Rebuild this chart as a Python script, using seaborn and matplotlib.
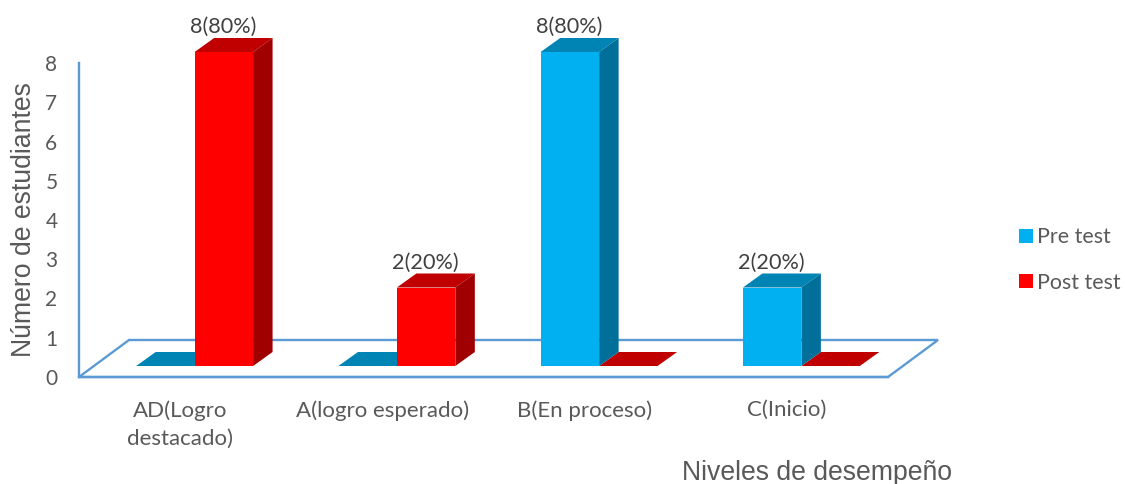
import matplotlib
matplotlib.use("Agg")
import matplotlib.pyplot as plt
import pandas as pd
import seaborn as sns
from matplotlib.patches import Polygon, Patch
from matplotlib.transforms import IdentityTransform

categories = ["AD(Logro\ndestacado)", "A(logro esperado)", "B(En proceso)", "C(Inicio)"]
pre_test = [0, 0, 8, 2]
post_test = [8, 2, 0, 0]
pre_pct = [0, 0, 80, 20]
post_pct = [80, 20, 0, 0]
y_ticks = [0, 1, 2, 3, 4, 5, 6, 7, 8]
series_names = ["Pre test", "Post test"]
y_title = "Número de estudiantes"
x_title = "Niveles de desempeño"

FRONT = {"Pre test": "#00B0F0", "Post test": "#FF0000"}
TOP = {"Pre test": "#0084B4", "Post test": "#C00000"}
SIDE = {"Pre test": "#00709B", "Post test": "#A00000"}
FRAME = "#5B9BD5"
TEXT = "#595959"
LABEL = "#404040"

W, H = 1125, 484
sns.set_theme(style="white")
plt.rcParams["font.family"] = ["Lato", "DejaVu Sans"]

fig = plt.figure(figsize=(W / 100, H / 100), dpi=100, facecolor="white")


def box(left, top, right, bottom):
    return [left / W, 1 - bottom / H, (right - left) / W, (bottom - top) / H]


# Front frame of the chart: carries the axes, ticks and the floor outline
ax = fig.add_axes(box(79, 63, 888, 377))
ax.set_xlim(-0.5, 3.5)
ax.set_ylim(0, 8)
ax.set_facecolor("none")
ax.set_xticks(range(len(categories)), categories)
ax.set_yticks(y_ticks)
ax.tick_params(axis="x", length=0, pad=16.5, labelsize=16, labelcolor=TEXT)
ax.tick_params(axis="y", length=0, pad=15.5, labelsize=15, labelcolor=TEXT)
for label in ax.get_xticklabels():
    label.set_linespacing(1.5)
for name in ("top", "right"):
    ax.spines[name].set_visible(False)
for name in ("left", "bottom"):
    ax.spines[name].set_color(FRAME)
    ax.spines[name].set_linewidth(1.7)

# Perspective floor behind the bars
floor_dx, floor_dy = 50, 37
fl, fb = ax.transAxes.transform((0, 0))
fr, _ = ax.transAxes.transform((1, 0))
ax.add_patch(Polygon(
    [(fl, fb), (fr, fb), (fr + floor_dx, fb + floor_dy), (fl + floor_dx, fb + floor_dy)],
    closed=True, facecolor="white", edgecolor=FRAME, linewidth=1.7,
    transform=IdentityTransform(), clip_on=False, zorder=1))

# Bars stand in the middle of the floor, so their axes sit slightly up and right
bar_ax = fig.add_axes(box(79 + 14.5, 63 - 11, 888 + 14.5, 377 - 11))
bar_ax.set_facecolor("none")
frame = pd.DataFrame({
    "category": categories * 2,
    "series": [series_names[0]] * 4 + [series_names[1]] * 4,
    "value": pre_test + post_test,
    "pct": pre_pct + post_pct,
})
sns.barplot(data=frame, x="category", y="value", hue="series", hue_order=series_names,
            palette=FRONT, width=0.578, dodge=True, saturation=1, legend=False,
            linewidth=0, ax=bar_ax, zorder=4)
bar_ax.set_xlim(-0.5, 3.5)
bar_ax.set_ylim(0, 8)
bar_ax.axis("off")

# Extrude every bar: a top face and a right side face
depth_dx, depth_dy = 19.5, 14
bars = [p for p in bar_ax.patches]
for i, bar in enumerate(bars):
    series = series_names[i // len(categories)]
    x0, x1 = bar.get_x(), bar.get_x() + bar.get_width()
    h = bar.get_height()
    (px0, py1), (px1, py0) = bar_ax.transData.transform([(x0, h), (x1, 0)])
    top = [(px0, py1), (px1, py1), (px1 + depth_dx, py1 + depth_dy), (px0 + depth_dx, py1 + depth_dy)]
    bar_ax.add_patch(Polygon(top, closed=True, facecolor=TOP[series], edgecolor="none",
                             transform=IdentityTransform(), clip_on=False, zorder=2))
    if h > 0:
        side = [(px1, py0), (px1 + depth_dx, py0 + depth_dy),
                (px1 + depth_dx, py1 + depth_dy), (px1, py1)]
        bar_ax.add_patch(Polygon(side, closed=True, facecolor=SIDE[series], edgecolor="none",
                                 transform=IdentityTransform(), clip_on=False, zorder=3))
        pct = frame["pct"].iloc[i]
        bar_ax.annotate(f"{h:g}({pct}%)", xy=((x0 + x1) / 2, h), xytext=(-0.7, 18),
                        textcoords="offset points", ha="center", va="center",
                        fontsize=15.6, color=LABEL, annotation_clip=False, zorder=6)

# Axis titles
fig.text(24 / W, 1 - 220 / H, y_title, rotation=90, ha="center", va="center",
         fontsize=19.2, color=TEXT, family="Liberation Sans")
fig.text(817 / W, 1 - 473 / H, x_title, ha="center", va="center",
         fontsize=19.2, color=TEXT, family="Liberation Sans")

# Legend on the right
handles = [Patch(facecolor=FRONT[s], edgecolor="none", label=s) for s in series_names]
fig.legend(handles=handles, loc="center left", bbox_to_anchor=(1019 / W, 1 - 260 / H),
           frameon=False, fontsize=15.4, labelcolor=TEXT, handlelength=0.65, handleheight=0.65,
           handletextpad=0.2, labelspacing=1.2, borderpad=0, borderaxespad=0)

fig.savefig("out.png", dpi=100, facecolor="white")
